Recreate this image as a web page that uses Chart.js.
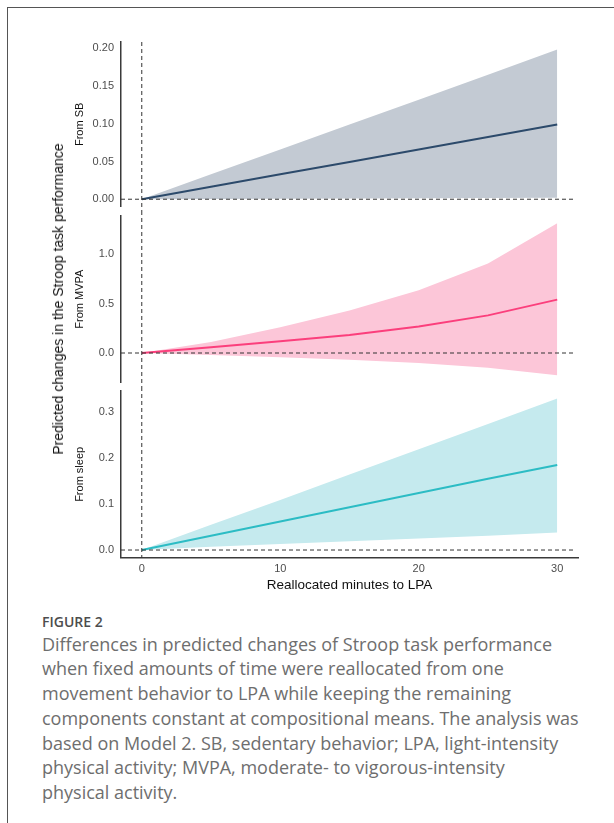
<!DOCTYPE html>
<html>
<head>
<meta charset="utf-8">
<script src="https://cdn.jsdelivr.net/npm/chart.js@4.4.0/dist/chart.umd.min.js"></script>
<style>
    html, body { margin: 0; padding: 0; background: #fff; }
    body { width: 614px; height: 823px; position: relative; overflow: hidden; font-family: "Liberation Sans", Arial, sans-serif; }
    .frame { position: absolute; left: 7px; top: 7px; width: 700px; height: 900px; border-top: 1px solid #555; border-left: 1px solid #555; }
    canvas { position: absolute; left: 0; }
    #yTitle { position: absolute; left: 58px; top: 299px; transform: translate(-50%, -50%) rotate(-90deg); white-space: nowrap; font-size: 14px; color: #111; }
    #figLabel { position: absolute; left: 42px; top: 612px; font-family: "Open Sans", sans-serif; font-weight: 600; font-size: 14px; color: #4d4d4d; }
    #caption { position: absolute; left: 42px; top: 631.5px; font-family: "Open Sans", sans-serif; font-size: 18px; line-height: 24.8px; color: #6e6e6e; white-space: nowrap; }
</style>
</head>
<body>
<div class="frame"></div>
<canvas id="sbChart" width="614" height="181" style="top:30px"></canvas>
<canvas id="mvpaChart" width="614" height="176" style="top:211px"></canvas>
<canvas id="sleepChart" width="614" height="213" style="top:387px"></canvas>
<div id="yTitle">Predicted changes in the Stroop task performance</div>
<div id="figLabel">FIGURE 2</div>
<div id="caption">Differences in predicted changes of Stroop task performance<br>when fixed amounts of time were reallocated from one<br>movement behavior to LPA while keeping the remaining<br>components constant at compositional means. The analysis was<br>based on Model 2. SB, sedentary behavior; LPA, light-intensity<br>physical activity; MVPA, moderate- to vigorous-intensity<br>physical activity.</div>

<script>
// Reallocated minutes (x)
const MINUTES = [0, 5, 10, 15, 20, 25, 30];
const X_TICKS = [0, 10, 20, 30];

// From SB
const SB_EST = [0, 0.0165, 0.033, 0.0495, 0.066, 0.0825, 0.099];
const SB_UPPER = [0, 0.033, 0.066, 0.099, 0.132, 0.165, 0.1985];
const SB_LOWER = [0, 0.0003, 0.0007, 0.001, 0.0013, 0.0017, 0.002];
const SB_TICKS = ['0.00', '0.05', '0.10', '0.15', '0.20'];

// From MVPA
const MVPA_EST = [0, 0.058, 0.119, 0.183, 0.268, 0.38, 0.539];
const MVPA_UPPER = [0, 0.11, 0.26, 0.43, 0.634, 0.905, 1.31];
const MVPA_LOWER = [0, -0.02, -0.043, -0.068, -0.1, -0.15, -0.226];
const MVPA_TICKS = ['0.0', '0.5', '1.0'];

// From sleep
const SLEEP_EST = [0, 0.031, 0.062, 0.093, 0.124, 0.155, 0.185];
const SLEEP_UPPER = [0, 0.055, 0.109, 0.164, 0.219, 0.274, 0.3295];
const SLEEP_LOWER = [0, 0.007, 0.013, 0.019, 0.025, 0.031, 0.038];
const SLEEP_TICKS = ['0.0', '0.1', '0.2', '0.3'];

const AXIS_COLOR = '#3a3a3a';
const TICK_COLOR = '#4d4d4d';

// dashed reference lines at x = 0 and y = 0
const refLines = {
    id: 'refLines',
    afterDatasetsDraw(chart, args, opts) {
        const { ctx, chartArea, scales } = chart;
        const x0 = scales.x.getPixelForValue(0);
        const y0 = scales.y.getPixelForValue(0);
        ctx.save();
        ctx.strokeStyle = '#333';
        ctx.lineWidth = 1;
        ctx.setLineDash([4, 3]);
        ctx.beginPath();
        ctx.moveTo(chartArea.left, y0);
        ctx.lineTo(chartArea.right - 2, y0);
        ctx.stroke();
        ctx.beginPath();
        ctx.moveTo(x0, opts.fromTop ? chartArea.top : 0);
        ctx.lineTo(x0, opts.toBottom ? chartArea.bottom : chart.height);
        ctx.stroke();
        ctx.restore();
    }
};

function pts(ys) {
    return MINUTES.map((m, i) => ({ x: m, y: ys[i] }));
}

function makePanel(id, cfg) {
    const ticks = cfg.ticks.map(t => parseFloat(t));
    new Chart(document.getElementById(id), {
        type: 'line',
        data: {
            datasets: [
                // estimate first so it is drawn on top of the band
                { data: pts(cfg.est), borderColor: cfg.line, borderWidth: 2, pointRadius: 0, fill: false },
                { data: pts(cfg.upper), borderWidth: 0, pointRadius: 0, fill: '+1', backgroundColor: cfg.band },
                { data: pts(cfg.lower), borderWidth: 0, pointRadius: 0, fill: false }
            ]
        },
        options: {
            responsive: false,
            animation: false,
            events: [],
            layout: { padding: { left: 70, right: 36, top: cfg.padTop, bottom: cfg.padBottom } },
            plugins: { legend: { display: false }, tooltip: { enabled: false }, refLines: cfg.ref },
            scales: {
                x: {
                    type: 'linear', min: -1.5, max: 31.5,
                    display: cfg.showX,
                    grid: { display: false, drawOnChartArea: false, drawTicks: true, tickLength: 3, tickColor: AXIS_COLOR, tickWidth: 1 },
                    border: { display: true, color: AXIS_COLOR, width: 1.5 },
                    afterBuildTicks: s => { s.ticks = X_TICKS.map(v => ({ value: v })); },
                    afterFit: s => { if (cfg.showX) { s.height = 42.3; s.paddingLeft = 0; s.paddingRight = 0; } },
                    ticks: { color: TICK_COLOR, padding: 2, font: { family: 'Liberation Sans', size: 11 } },
                    title: { display: cfg.showX, text: 'Reallocated minutes to LPA', color: '#111', padding: { top: 0, bottom: 7 }, font: { family: 'Liberation Sans', size: 13.5 } }
                },
                y: {
                    type: 'linear', min: cfg.min, max: cfg.max,
                    grid: { display: false, drawTicks: false },
                    border: { display: true, color: AXIS_COLOR, width: 1.5 },
                    afterBuildTicks: s => { s.ticks = ticks.map(v => ({ value: v })); },
                    afterFit: s => { s.width = 51; s.paddingTop = 0; s.paddingBottom = 0; },
                    ticks: {
                        color: TICK_COLOR, padding: 7, font: { family: 'Liberation Sans', size: 11 },
                        callback: (v) => cfg.ticks[ticks.indexOf(v)]
                    },
                    title: { display: true, text: cfg.label, color: '#111', padding: { top: 3, bottom: 0 }, font: { family: 'Liberation Sans', size: 11 } }
                }
            }
        },
        plugins: [refLines]
    });
}

makePanel('sbChart', {
    est: SB_EST, upper: SB_UPPER, lower: SB_LOWER, ticks: SB_TICKS,
    min: -0.0099, max: 0.2085, label: 'From SB',
    band: '#c3cad3', line: '#2c4a6b',
    padTop: 12, padBottom: 4.3, showX: false, ref: { fromTop: true, toBottom: false }
});

makePanel('mvpaChart', {
    est: MVPA_EST, upper: MVPA_UPPER, lower: MVPA_LOWER, ticks: MVPA_TICKS,
    min: -0.30, max: 1.387, label: 'From MVPA',
    band: '#fcc6d8', line: '#fb3f7c',
    padTop: 4.7, padBottom: 4.3, showX: false, ref: { fromTop: false, toBottom: false }
});

makePanel('sleepChart', {
    est: SLEEP_EST, upper: SLEEP_UPPER, lower: SLEEP_LOWER, ticks: SLEEP_TICKS,
    min: -0.0167, max: 0.3457, label: 'From sleep',
    band: '#c5eaee', line: '#2cbcc4',
    padTop: 4, padBottom: 0, showX: true, ref: { fromTop: false, toBottom: true }
});
</script>
</body>
</html>
